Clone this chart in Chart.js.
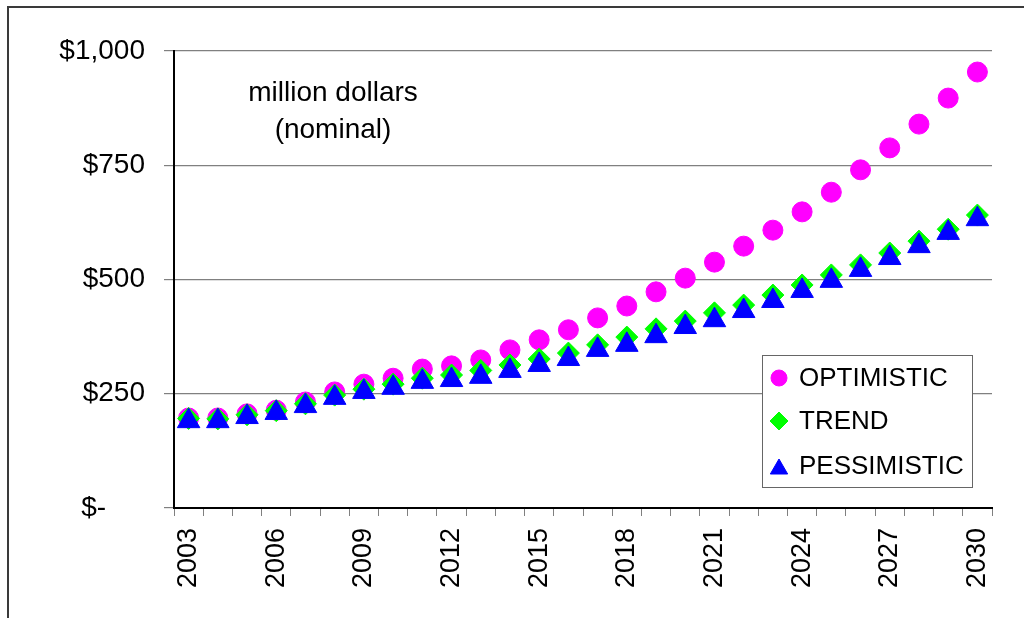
<!DOCTYPE html>
<html>
<head>
<meta charset="utf-8">
<script src="https://cdn.jsdelivr.net/npm/chart.js@4"></script>
<style>
body { margin: 0; background: #fff; }
#frame { position: absolute; left: 7px; top: 6px; width: 1100px; height: 700px; border-left: 2px solid #3a3a3a; border-top: 2px solid #3a3a3a; }
#wrap { position: relative; width: 1024px; height: 618px; overflow: hidden; }
canvas { position: absolute; left: 0; top: 0; }
</style>
</head>
<body>
<div id="wrap">
<div id="frame"></div>
<canvas id="myChart" width="1024" height="618"></canvas>
</div>
<script>
const years = ['2003','2004','2005','2006','2007','2008','2009','2010','2011','2012','2013','2014','2015','2016',
    '2017','2018','2019','2020','2021','2022','2023','2024','2025','2026','2027','2028','2029','2030'];
const optimistic = [197,197,206,214,232,254,271,284,304,311,324,346,368,390,416,442,473,503,538,573,608,648,691,740,788,840,897,954];
const trend = [196,195,204,213,228,247,260,271,284,291,301,313,326,339,357,374,392,409,427,444,466,488,510,532,558,584,610,641];
const pessimistic = [190,190,199,208,223,241,254,263,276,280,287,300,313,326,346,357,376,396,411,431,453,475,497,521,547,573,602,632];
const yTicks = [0,250,500,750,1000];

const FONT = '"Liberation Sans", Arial, sans-serif';

// legend + note drawn inside the plot
const notePlugin = {
    id: 'note',
    afterDraw(chart) {
        const ctx = chart.ctx;
        ctx.save();
        ctx.font = '28px ' + FONT;
        ctx.fillStyle = '#000';
        ctx.textAlign = 'center';
        ctx.textBaseline = 'middle';
        ctx.fillText('million dollars', 333, 93);
        ctx.fillText('(nominal)', 333, 130);

        // legend box
        ctx.fillStyle = '#fff';
        ctx.fillRect(762, 355, 210, 132);
        ctx.strokeStyle = '#666';
        ctx.lineWidth = 1;
        ctx.strokeRect(762.5, 355.5, 210, 132);
        const items = chart.data.datasets;
        const ys = [378, 421, 466];
        const sizes = [8, 9, 10];
        items.forEach((ds, i) => {
            ctx.fillStyle = ds.pointBackgroundColor;
            ctx.strokeStyle = ds.pointBackgroundColor;
            ctx.lineWidth = 1;
            Chart.helpers.drawPoint(ctx, {pointStyle: ds.pointStyle, radius: sizes[i], rotation: 0, borderWidth: 1},
                779, ys[i] + (ds.pointStyle === 'triangle' ? 3 : 0));
            ctx.fillStyle = '#000';
            ctx.textAlign = 'left';
            ctx.font = '26px ' + FONT;
            ctx.fillText(ds.label, 799, ys[i] + 1);
        });
        ctx.restore();
    }
};

const dataChart = {
    labels: years,
    datasets: [
        {label: 'OPTIMISTIC', data: optimistic, pointStyle: 'circle', pointRadius: 10,
         pointBackgroundColor: '#ff00ff', pointBorderColor: '#ff00ff', order: 3},
        {label: 'TREND', data: trend, pointStyle: 'rectRot', pointRadius: 11,
         pointBackgroundColor: '#00ff00', pointBorderColor: '#00ff00', order: 2},
        {label: 'PESSIMISTIC', data: pessimistic, pointStyle: 'triangle', pointRadius: 13,
         pointBackgroundColor: '#0000ff', pointBorderColor: '#0000ff', order: 1}
    ]
};

const config = {
type: 'line',
data: dataChart,
options: {
    responsive: false,
    animation: false,
    showLine: false,
    layout: { padding: { top: 51, right: 32, left: 0, bottom: 0 } },
    elements: { point: { borderWidth: 1, hoverRadius: 10 } },
    plugins: {
        legend: { display: false },
        tooltip: { enabled: false }
    },
    scales: {
        x: {
            offset: true,
            afterFit: (s) => { s.height = 110; },
            border: { color: '#000', width: 2 },
            grid: {
                offset: true,
                drawOnChartArea: true,
                color: (c) => c.index === years.length ? '#808080' : 'rgba(0,0,0,0)',
                tickColor: '#808080',
                tickLength: 8
            },
            ticks: {
                autoSkip: false,
                minRotation: 90,
                maxRotation: 90,
                padding: 12,
                color: '#000',
                font: { family: FONT, size: 27 },
                callback: function(v, i) { return i % 3 === 0 ? years[i] : ''; }
            }
        },
        y: {
            min: 0,
            max: 1000,
            afterFit: (s) => { s.width = 174; },
            afterBuildTicks: (s) => { s.ticks = yTicks.map(v => ({value: v})); },
            border: { color: '#000', width: 2 },
            grid: { color: '#808080', lineWidth: 1.2, tickColor: '#808080', tickLength: 10 },
            ticks: {
                padding: 19,
                color: '#000',
                font: { family: FONT, size: 28 },
                callback: (v) => v === 0 ? '$-     ' : '$' + v.toLocaleString('en-US')
            }
        }
    }
},
plugins: [notePlugin]
};
const myChart = new Chart(document.getElementById('myChart'), config);
</script>
</body>
</html>
